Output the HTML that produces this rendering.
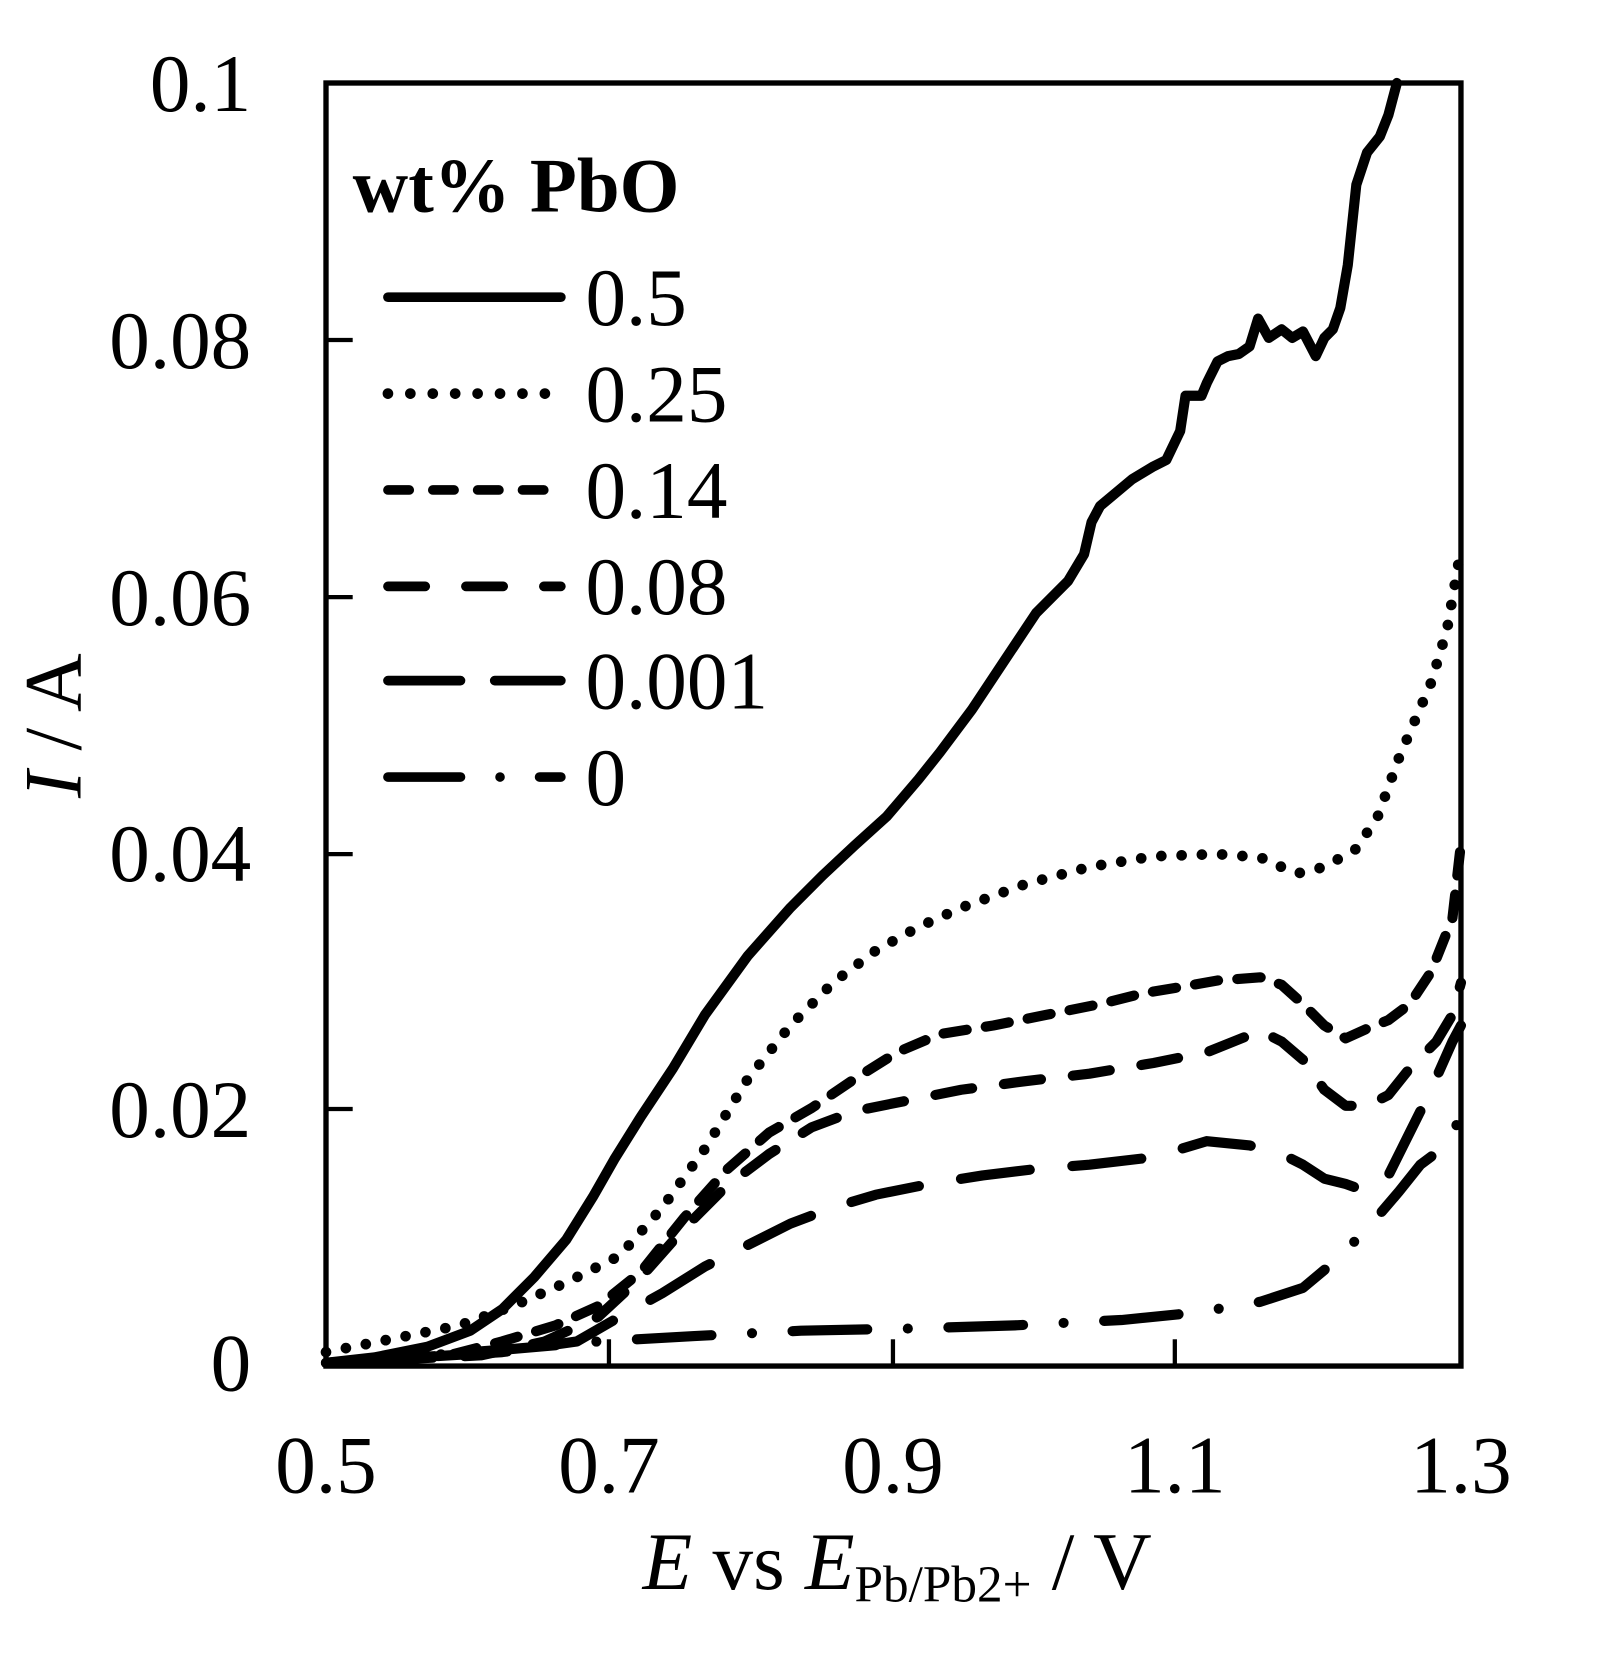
<!DOCTYPE html>
<html><head><meta charset="utf-8"><style>
html,body{margin:0;padding:0;background:#fff;}
svg{display:block;}
text{font-family:"Liberation Serif",serif;fill:#000;}
</style></head><body>
<svg width="1618" height="1676" viewBox="0 0 1618 1676" xmlns="http://www.w3.org/2000/svg">
<g transform="translate(326,83) scale(1.0677,1.071) translate(-305,-80)">
<g fill="none" stroke="#000" stroke-width="9.5" stroke-linejoin="round">
<polyline stroke-linecap="round" points="305,1275 350,1270 400,1260 440,1245 470,1225 500,1195 530,1160 555,1120 575,1085 600,1045 630,1000 660,950 700,895 740,850 770,820 800,792 830,765 860,730 880,705 910,665 940,620 970,575 1000,545 1015,520 1022,490 1030,475 1060,450 1080,438 1092,432 1105,405 1110,372 1125,372 1130,360 1140,340 1150,335 1160,333 1170,326 1178,300 1188,318 1200,310 1210,318 1220,312 1232,335 1240,318 1248,310 1255,290 1262,250 1270,175 1280,145 1292,130 1300,110 1308,80"/>
<polyline stroke-linecap="round" stroke-width="10" stroke-dasharray="0 19" points="305,1265 380,1250 430,1240 480,1222 530,1200 580,1175 620,1130 660,1075 700,1010 740,960 780,920 820,890 860,868 900,850 960,828 1020,812 1080,802 1140,800 1180,803 1200,812 1215,818 1240,812 1270,795 1290,765 1310,710 1340,640 1355,590 1368,515"/>
<polyline stroke-linecap="round" stroke-dasharray="22 18" points="305,1275 420,1268 470,1255 520,1240 560,1222 600,1190 640,1140 680,1095 720,1060 760,1037 800,1010 840,985 880,968 930,960 980,950 1030,940 1070,930 1100,925 1140,918 1180,915 1200,922 1220,940 1240,960 1260,972 1280,963 1300,955 1320,940 1340,910 1360,860 1368,790"/>
<polyline stroke-linecap="round" stroke-dasharray="35 30" points="305,1275 450,1268 510,1255 560,1232 600,1195 640,1150 680,1110 720,1080 760,1055 800,1040 850,1030 900,1020 960,1012 1020,1005 1080,995 1130,985 1180,965 1200,975 1220,992 1240,1020 1260,1035 1280,1035 1300,1025 1320,1000 1345,975 1360,950 1368,920"/>
<polyline stroke-linecap="round" stroke-dasharray="65 40" points="305,1275 470,1265 540,1255 580,1232 620,1210 660,1185 700,1165 740,1145 780,1130 820,1118 870,1108 920,1100 970,1094 1020,1090 1080,1083 1130,1068 1170,1072 1200,1080 1220,1090 1240,1103 1260,1108 1280,1115 1300,1100 1320,1060 1340,1020 1360,975 1368,960"/>
<polyline stroke-linecap="round" stroke-dasharray="70 38 0 38" points="305,1275 480,1262 560,1255 650,1250 750,1245 850,1243 950,1240 1050,1235 1120,1228 1180,1218 1220,1205 1250,1180 1280,1150 1310,1115 1330,1090 1350,1075 1360,1060 1368,1045"/>
</g>
<rect x="305" y="80" width="1063" height="1198" fill="none" stroke="#000" stroke-width="5"/>
<g stroke="#000" stroke-width="4">
<line x1="570" y1="1278" x2="570" y2="1253"/>
<line x1="836" y1="1278" x2="836" y2="1253"/>
<line x1="1100" y1="1278" x2="1100" y2="1253"/>
<line x1="305" y1="320" x2="330" y2="320"/>
<line x1="305" y1="560" x2="330" y2="560"/>
<line x1="305" y1="800" x2="330" y2="800"/>
<line x1="305" y1="1038" x2="330" y2="1038"/>
</g>
<g font-size="76" text-anchor="end">
<text x="235" y="106">0.1</text>
<text x="235" y="346">0.08</text>
<text x="235" y="586">0.06</text>
<text x="235" y="825">0.04</text>
<text x="235" y="1064">0.02</text>
<text x="235" y="1301">0</text>
</g>
<g font-size="76" text-anchor="middle">
<text x="305" y="1396">0.5</text>
<text x="570" y="1396">0.7</text>
<text x="836" y="1396">0.9</text>
<text x="1100" y="1396">1.1</text>
<text x="1368" y="1396">1.3</text>
</g>
<text x="840" y="1486" font-size="76" text-anchor="middle"><tspan font-style="italic">E</tspan> vs <tspan font-style="italic">E</tspan><tspan font-size="48" dy="12">Pb/Pb2+</tspan><tspan dy="-12"> / V</tspan></text>
<text transform="translate(75,680) rotate(-90)" font-size="76" text-anchor="middle"><tspan font-style="italic">I</tspan> / A</text>
<text x="330" y="200" font-size="72" font-weight="bold">wt% PbO</text>
<g fill="none" stroke="#000" stroke-width="9" stroke-linecap="round">
<line x1="363" y1="280" x2="525" y2="280"/>
<line x1="363" y1="370" x2="525" y2="370" stroke-width="10" stroke-dasharray="0 21"/>
<line x1="363" y1="460" x2="525" y2="460" stroke-dasharray="20 22"/>
<line x1="363" y1="550" x2="525" y2="550" stroke-dasharray="35 38"/>
<line x1="363" y1="638" x2="525" y2="638" stroke-dasharray="68 32"/>
<line x1="363" y1="728" x2="525" y2="728" stroke-dasharray="68 37 0 37"/>
</g>
<g font-size="76">
<text x="548" y="306">0.5</text>
<text x="548" y="396">0.25</text>
<text x="548" y="486">0.14</text>
<text x="548" y="576">0.08</text>
<text x="548" y="664">0.001</text>
<text x="548" y="754">0</text>
</g>
</g>
</svg>
</body></html>
